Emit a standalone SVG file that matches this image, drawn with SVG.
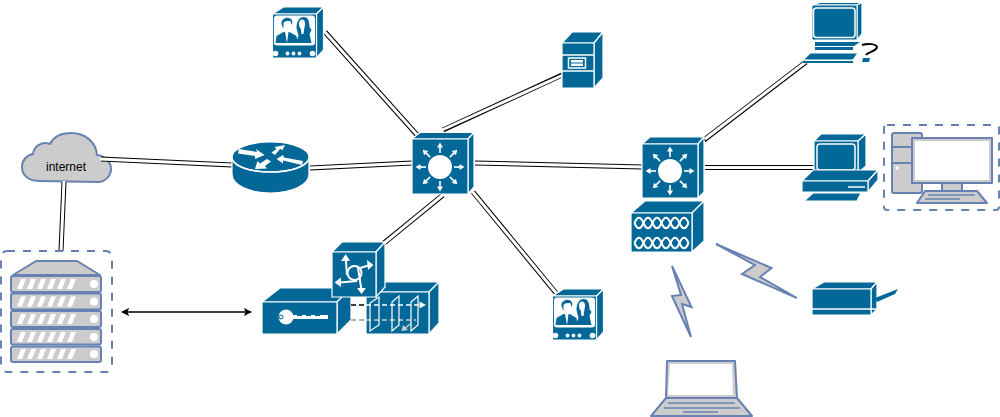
<svg xmlns="http://www.w3.org/2000/svg" xmlns:xlink="http://www.w3.org/1999/xlink" width="1000" height="417" viewBox="0 0 1000 417">
<style>
.b{fill:#036897;stroke:#fff;stroke-width:1.2;stroke-linejoin:round}
.bn{fill:#036897;stroke:none}
.w{fill:#fff;stroke:none}
.wl{fill:none;stroke:#fff;stroke-width:1.5}
.wt{fill:none;stroke:#fff;stroke-width:2}
.g{fill:#ccc;stroke:#6881b3;stroke-width:2;stroke-linejoin:round}
.d{fill:none;stroke:#6881b3;stroke-width:2;stroke-dasharray:8 8}
.lo{fill:none;stroke:#000;stroke-width:5}
.li{fill:none;stroke:#fff;stroke-width:3}
.bolt{fill:#ccc;stroke:#6881b3;stroke-width:2;stroke-linejoin:miter}
.t{font-family:"Liberation Sans",Arial,sans-serif;font-size:12px;fill:#000;text-anchor:middle}
</style>
<defs>
<marker id="ah" viewBox="0 0 10 10" refX="9" refY="5" markerWidth="8" markerHeight="8" markerUnits="userSpaceOnUse" orient="auto-start-reverse"><path d="M0 0L10 5L0 10L2.5 5Z" fill="#000"/></marker>
<g id="arrows8">
<circle cx="0" cy="0" r="12" class="w"/>
<g id="ar"><path d="M0-14V-20" stroke="#fff" stroke-width="1.6"/><path d="M-3-19.500L0-24.500L3-19.500Z" class="w"/></g>
<use xlink:href="#ar" transform="rotate(45)"/><use xlink:href="#ar" transform="rotate(90)"/><use xlink:href="#ar" transform="rotate(135)"/><use xlink:href="#ar" transform="rotate(180)"/><use xlink:href="#ar" transform="rotate(225)"/><use xlink:href="#ar" transform="rotate(270)"/><use xlink:href="#ar" transform="rotate(315)"/>
</g>
<g id="tv">
<path class="b" d="M0 0L11-7H51L44 0Z"/>
<path class="b" d="M44 0L51-7V36L44 44Z"/>
<rect class="b" x="0" y="0" width="44" height="44"/>
<rect class="w" x="1.500" y="1.500" width="41" height="30" rx="3"/>
<path class="bn" d="M3 29L4 22L11 18H17L24 22L25 29Z"/>
<path class="w" d="M12.500 18L14.500 29L16 18Z"/>
<path class="bn" d="M9 10C8 3 19 1 20 8L19 11L18 7C15 7 12 7 11 9L11 15Z"/>
<path class="bn" d="M24 14C24 6 28 3 31 3C36 3 37 8 37 13L39 16L37 20L39 29H23L26 22Z"/>
<ellipse class="w" cx="29.500" cy="10" rx="3" ry="4.500"/>
<path class="w" d="M28 13H32L31 20H29Z"/>
<circle class="w" cx="3" cy="39.500" r="2.800"/><circle class="w" cx="40" cy="39.500" r="2.800"/>
<circle class="w" cx="15" cy="39.500" r="1.900"/><circle class="w" cx="21" cy="39.500" r="1.900"/><circle class="w" cx="27" cy="39.500" r="1.900"/>
</g>
<g id="chain">
<path d="M0 0C3-7 6-7 9 0S15 7 18 0S24-7 27 0S33 7 36 0S42-7 45 0S51 7 54 0" fill="none" stroke="#fff" stroke-width="2"/>
<path d="M0 0C3 7 6 7 9 0S15-7 18 0S24 7 27 0S33-7 36 0S42 7 45 0S51-7 54 0" fill="none" stroke="#fff" stroke-width="2"/>
</g>
</defs>

<g id="cloud">
<path d="M39 181C27 181 22 174 22 167C22 160 27 155 33 154C34 146 42 141 50 144C54 136 62 133 71 133C85 133 96 142 97 155C105 156 111 162 111 169C111 176 105 182 98 182Z" fill="#ccc" stroke="#6881b3" stroke-width="2"/>
<text class="t" x="66" y="171">internet</text>
</g>

<g id="connectors">
<path class="lo" d="M101 159L232 165M310 168L412 163M64 182L61 251M325 32L418 136M562 75L443 130M475 163L642 167M473 192L556 293M443 195L384 243M704 140L806 62M705 167.500H815"/>
<path class="li" d="M100 159L233 165M309 168L413 163M64 181L61 252M324 31L419 137M563 75L442 130M474 163L643 167M472 191L557 294M444 194L383 244M705 139L807 61M704 167.500H816"/>
<path d="M122 312H251" fill="none" stroke="#000" stroke-width="1.300" marker-start="url(#ah)" marker-end="url(#ah)"/>
</g>

<g id="server-stack">
<rect class="d" x="1" y="251" width="111" height="121" rx="6"/>
<path class="g" d="M13 275L36 261H77L100 275Z"/>
<g id="rack-units">
<rect class="g" x="11" y="276" width="90" height="16" rx="2"/>
<rect class="g" x="11" y="293.500" width="90" height="16" rx="2"/>
<rect class="g" x="11" y="311" width="90" height="16" rx="2"/>
<rect class="g" x="11" y="329" width="90" height="15.500" rx="2"/>
<rect class="g" x="11" y="346.500" width="90" height="15.500" rx="2"/>
</g>
<g fill="#fff">
<path d="M17 289L21 279H26L22 289ZM27 289L31 279H36L32 289ZM37 289L41 279H46L42 289ZM47 289L51 279H56L52 289ZM57 289L61 279H66L62 289ZM67 289L71 279H76L72 289Z"/><circle cx="94" cy="284" r="4"/>
<path d="M17 306.500L21 296.500H26L22 306.500ZM27 306.500L31 296.500H36L32 306.500ZM37 306.500L41 296.500H46L42 306.500ZM47 306.500L51 296.500H56L52 306.500ZM57 306.500L61 296.500H66L62 306.500ZM67 306.500L71 296.500H76L72 306.500Z"/><circle cx="94" cy="301.500" r="4"/>
<path d="M17 324L21 314H26L22 324ZM27 324L31 314H36L32 324ZM37 324L41 314H46L42 324ZM47 324L51 314H56L52 324ZM57 324L61 314H66L62 324ZM67 324L71 314H76L72 324Z"/><circle cx="94" cy="319" r="4"/>
<path d="M17 342L21 332H26L22 342ZM27 342L31 332H36L32 342ZM37 342L41 332H46L42 342ZM47 342L51 332H56L52 342ZM57 342L61 332H66L62 342ZM67 342L71 332H76L72 342Z"/><circle cx="94" cy="337" r="4"/>
<path d="M17 359L21 349H26L22 359ZM27 359L31 349H36L32 359ZM37 359L41 349H46L42 359ZM47 359L51 349H56L52 359ZM57 359L61 349H66L62 359ZM67 359L71 349H76L72 359Z"/><circle cx="94" cy="354" r="4"/>
</g>
</g>

<g id="router">
<path class="b" d="M232 157V174C232 185 249 193 270.500 193S309 185 309 174V157Z"/>
<ellipse class="b" cx="270.500" cy="157" rx="38.500" ry="15"/>
<path d="M232 159C235 167 250 172 270.500 172S306 167 309 159" fill="none" stroke="#fff" stroke-width="1.500"/>
<path class="w" d="M239 149L257 152L256 149L264.500 155L255 159L255 156L238 153.500ZM271.500 152.500L276.500 149L274.500 147L285 145L282.500 150L280 149L275 155ZM276.500 159L283 155L284 157.500L303 161L302 165L283 160.500L283 163.500ZM267 159L271 161.500L265 166L267 168.500L255 169L257.500 161L260 163.500Z"/>
</g>

<g id="tv-1"><use xlink:href="#tv" x="272.500" y="14"/></g>

<g id="server-cube">
<path class="b" d="M562 43L572 32H603L594 43Z"/>
<path class="b" d="M594 43L603 32V78L594 88Z"/>
<rect class="b" x="562" y="43" width="32" height="45"/>
<path class="wl" d="M562 55H594M562 71H594"/>
<rect x="568.500" y="58" width="17" height="10" fill="none" stroke="#fff" stroke-width="1.500"/>
<rect x="571" y="60" width="12" height="6" class="w"/>
<path d="M571 63H583" stroke="#036897" stroke-width="1"/>
</g>

<g id="switch-1">
<path class="b" d="M412 139L420 132.500H474L468 139Z"/>
<path class="b" d="M468 139L474 132.500V187L468 194Z"/>
<rect class="b" x="412" y="139" width="56" height="55"/>
<use xlink:href="#arrows8" x="440" y="167"/>
</g>

<g id="switch-2">
<path class="b" d="M642 144L650 137H704L698 144Z"/>
<path class="b" d="M698 144L704 137V192L698 198Z"/>
<rect class="b" x="642" y="144" width="56" height="54"/>
<use xlink:href="#arrows8" x="670" y="171"/>
</g>

<g id="atm-box">
<path class="b" d="M631 213L645 201H704L692 213Z"/>
<path class="b" d="M692 213L704 201V241L692 252Z"/>
<rect class="b" x="631" y="213" width="61" height="39"/>
<use xlink:href="#chain" x="634.500" y="223"/>
<use xlink:href="#chain" x="634.500" y="243"/>
</g>

<g id="vpn">
<path class="b" d="M262 302L280 288H351L337 302Z"/>
<path class="b" d="M337 302L351 288V320L337 334Z"/>
<rect class="b" x="262" y="302" width="75" height="32"/>
<circle class="w" cx="286" cy="317" r="7.500"/>
<circle cx="281" cy="317" r="2" fill="none" stroke="#036897" stroke-width="1"/>
<path class="w" d="M292 315H328V319H292Z"/>
<path d="M297 315.500H302M306 315.500H311M315 315.500H320" stroke="#036897" stroke-width="1"/>
</g>

<g id="firewall">
<path class="b" d="M366 292L378 282H439L429 292Z"/>
<path class="b" d="M429 292L439 282V323L429 334Z"/>
<rect class="b" x="366" y="292" width="63" height="42"/>
<path d="M351 305H366" stroke="#000" stroke-width="1.500" stroke-dasharray="5 3"/>
<path d="M351 320H366" stroke="#999" stroke-width="1.500" stroke-dasharray="5 3"/>
<path d="M366 305H420" stroke="#fff" stroke-width="1.300" stroke-dasharray="5 3"/>
<path d="M419.500 301.500L426 305L419.500 308.500Z" class="w"/>
<path d="M366 320H416" stroke="#ccc" stroke-width="1.300" stroke-dasharray="5 3"/>
<path d="M370 303L379 297V325L370 331ZM392 302L399 296V325L392 331ZM411 302L418 296V325L411 331Z" fill="none" stroke="#fff" stroke-width="1.200"/>
<path d="M411.500 323L404 329" stroke="#ccc" stroke-width="1.500"/>
<path d="M401.500 331L403 325L408 330Z" fill="#ccc"/>
</g>

<g id="l3-box">
<path class="b" d="M332 252L342 242H385L376 252Z"/>
<path class="b" d="M376 252L385 242V287L376 297Z"/>
<rect class="b" x="332" y="252" width="44" height="45"/>
<circle cx="354.500" cy="273" r="7" class="wt"/>
<path class="wt" d="M345.700 258L347 275M360 268L370 265M340 282.500L357 281M358 268L361.500 290"/>
<path class="w" d="M345.700 254L341 261H350ZM373.500 265L367 260L368 270ZM334.500 282.500L341 277.500V287ZM361.500 294L357 288H366Z"/>
</g>

<g id="tv-2"><use xlink:href="#tv" x="552.500" y="296"/></g>

<g id="pc-question">
<path class="b" d="M812 5L820 2.500H862L857 5Z"/>
<path class="b" d="M857 5L862 2.500V34L857 40Z"/>
<rect x="812" y="5" width="45" height="35" fill="#036897" stroke="#fff" stroke-width="1"/>
<rect x="813.500" y="8" width="41.500" height="29.500" rx="3" fill="#036897" stroke="#fff" stroke-width="1.500"/>
<path class="bn" d="M815 42H860L854 46H815ZM815 47H853V50H815Z"/>
<path class="b" d="M803 60L810 53H858L853 60Z"/>
<path class="bn" d="M803 61H853V63H803Z"/>
<path d="M862 45C868 43 876 44 877 47C877 51 868 52 866 55" fill="none" stroke="#000" stroke-width="2"/>
<path class="bn" d="M863 58H870L869 62H862Z"/>
</g>

<g id="pc-desk">
<path class="b" d="M814 141L821 134H866L858 141Z"/>
<path class="b" d="M858 141L866 134V166L858 173Z"/>
<rect class="b" x="814" y="141" width="44" height="32"/>
<rect x="817" y="144" width="38" height="26" rx="3" fill="#036897" stroke="#fff" stroke-width="1.500"/>
<path class="b" d="M802 181L813 170H878L868 181Z"/>
<path class="b" d="M868 181L878 170V180L868 192Z"/>
<rect class="b" x="802" y="181" width="66" height="11"/>
<path d="M848 187H865" stroke="#fff" stroke-width="1.500"/>
<path class="b" d="M804 201L813 193H861L857 201Z"/>
</g>

<g id="desktop">
<rect class="d" x="884" y="125" width="115" height="85" rx="3"/>
<rect class="g" x="892" y="133" width="30" height="60" rx="2"/>
<path d="M892 147H922M892 163H912" stroke="#6881b3" stroke-width="2" fill="none"/>
<circle class="w" cx="897" cy="168" r="1.800"/>
<rect class="g" x="912" y="138" width="80" height="45"/>
<rect x="915" y="141" width="74" height="39" fill="#fff"/>
<rect class="g" x="942" y="183" width="20" height="8"/>
<path class="g" d="M917 203L925 191H977L987 203Z"/>
<path d="M928 195H975M925 199H960" stroke="#6881b3" stroke-width="1.500" fill="none"/>
</g>

<g id="bolt-1"><path class="bolt" d="M716 244L771.500 268L760 277L797 298L742 274L755 265Z"/></g>
<g id="bolt-2"><path class="bolt" d="M672 266L691.500 307L682 304L691 337L672 296L681 295Z"/></g>

<g id="printer">
<path class="b" d="M812 289L824 282H877L871 289Z"/>
<path class="b" d="M871 289L877 282V309L871 315Z"/>
<rect class="b" x="812" y="289" width="59" height="26"/>
<path d="M812 309H877" stroke="#fff" stroke-width="1.500"/>
<path class="bn" d="M875 298L898 289L895 294L877 302Z"/>
</g>

<g id="laptop">
<path class="g" d="M667 361H735L737 398H666Z"/>
<path d="M670 364H732L733 395H668Z" fill="#fff"/>
<path class="g" d="M666 398H737L752 416H651Z"/>
<path d="M668 403H735M664 408H740M683 412H718" stroke="#6881b3" stroke-width="1.500" fill="none"/>
</g>
</svg>
